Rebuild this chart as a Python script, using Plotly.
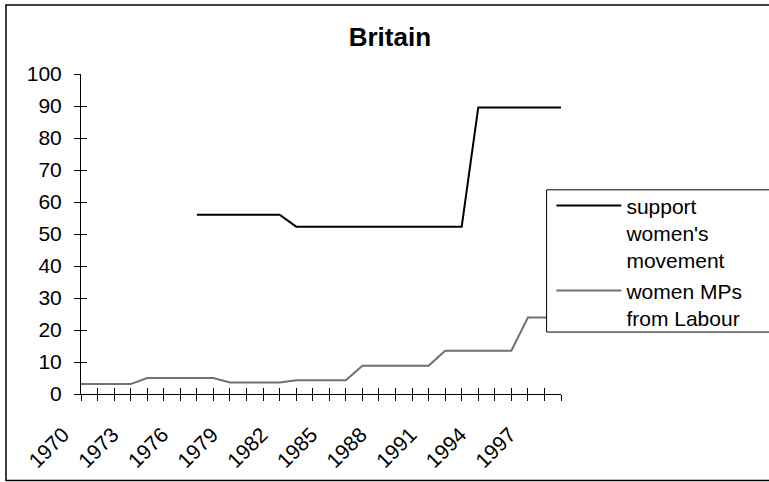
import plotly.graph_objects as go

# Yearly series
years = [1970, 1971, 1972, 1973, 1974, 1975, 1976, 1977, 1978, 1979,
         1980, 1981, 1982, 1983, 1984, 1985, 1986, 1987, 1988, 1989,
         1990, 1991, 1992, 1993, 1994, 1995, 1996, 1997, 1998, 1999]

support_movement = [None, None, None, None, None, None, None, 56.0, 56.0, 56.0,
                    56.0, 56.0, 56.0, 52.3, 52.3, 52.3, 52.3, 52.3, 52.3, 52.3,
                    52.3, 52.3, 52.3, 52.3, 89.5, 89.5, 89.5, 89.5, 89.5, 89.5]

women_mps_labour = [3.1, 3.1, 3.1, 3.1, 5.0, 5.0, 5.0, 5.0, 5.0, 3.6,
                    3.6, 3.6, 3.6, 4.3, 4.3, 4.3, 4.3, 8.8, 8.8, 8.8,
                    8.8, 8.8, 13.5, 13.5, 13.5, 13.5, 13.5, 23.9, 23.9, 23.9]

x_tick_labels = ["1970", "", "", "1973", "", "", "1976", "", "", "1979",
                 "", "", "1982", "", "", "1985", "", "", "1988", "",
                 "", "1991", "", "", "1994", "", "", "1997", "", ""]

y_ticks = [0, 10, 20, 30, 40, 50, 60, 70, 80, 90, 100]

FONT = "Liberation Sans, Arial, sans-serif"

fig = go.Figure()

fig.add_trace(go.Scatter(
    x=years, y=support_movement, mode="lines",
    name="support<br>women's<br>movement",
    line=dict(color="#000000", width=2),
    connectgaps=False,
))
fig.add_trace(go.Scatter(
    x=years, y=women_mps_labour, mode="lines",
    name="women MPs<br>from Labour",
    line=dict(color="#707070", width=2),
))
# empty trace so the overlay axes (inner half of the crossing ticks) exist
fig.add_trace(go.Scatter(x=[], y=[], xaxis="x2", yaxis="y2",
                         showlegend=False, hoverinfo="skip"))

axis_common = dict(showgrid=False, zeroline=False)

fig.update_layout(
    width=769, height=482,
    margin=dict(l=81, r=208, t=74, b=88, autoexpand=False),
    paper_bgcolor="white", plot_bgcolor="white",
    font=dict(family=FONT, size=21, color="#000000"),
    title=dict(text="<b>Britain</b>", font=dict(family=FONT, size=26, color="#000000"),
               x=0.507, xref="container", xanchor="center",
               y=0.924, yref="container", yanchor="middle"),
    xaxis=dict(range=[1970, 1999], tickmode="array", tickvals=years,
               ticktext=x_tick_labels, tickangle=-45,
               ticks="outside", ticklen=6, tickwidth=1, tickcolor="#000000",
               showline=True, linecolor="#000000", linewidth=1,
               ticklabelstandoff=13, ticklabelshift=-18,
               tickfont=dict(family=FONT, size=21), **axis_common),
    xaxis2=dict(range=[1970, 1999], overlaying="x", anchor="y", side="bottom",
                tickmode="array", tickvals=years, showticklabels=False,
                ticks="inside", ticklen=6, tickwidth=1, tickcolor="#000000",
                showline=False, **axis_common),
    yaxis=dict(range=[0, 100], tickmode="array", tickvals=y_ticks,
               ticks="outside", ticklen=6, tickwidth=1, tickcolor="#000000",
               showline=True, linecolor="#000000", linewidth=1,
               ticklabelstandoff=8,
               tickfont=dict(family=FONT, size=21), **axis_common),
    yaxis2=dict(range=[0, 100], overlaying="y", anchor="x", side="left",
                tickmode="array", tickvals=y_ticks, showticklabels=False,
                ticks="inside", ticklen=6, tickwidth=1, tickcolor="#000000",
                showline=False, **axis_common),
    legend=dict(x=0.98, xanchor="left", y=0.652, yanchor="top",
                bgcolor="rgba(0,0,0,0)", borderwidth=0,
                font=dict(family=FONT, size=21, color="#000000"),
                valign="top", itemwidth=65, tracegroupgap=0),
    showlegend=True,
    shapes=[
        # legend frame (covers the line behind it)
        dict(type="rect", xref="paper", yref="paper",
             x0=0.970, x1=1.5, y0=0.1936, y1=0.638,
             line=dict(color="#000000", width=1), fillcolor="white",
             layer="above"),
        # chart frame
        dict(type="rect", xref="paper", yref="paper",
             x0=-75 / 480, x1=1.5, y0=-86.5 / 320, y1=1 + 69 / 320,
             line=dict(color="#000000", width=1.5), fillcolor="rgba(0,0,0,0)",
             layer="below"),
    ],
)

fig.write_html("out.html")
